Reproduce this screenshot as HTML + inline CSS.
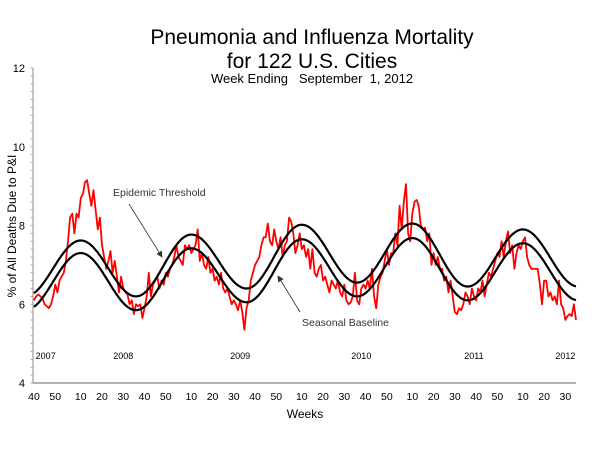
<!DOCTYPE html>
<html><head><meta charset="utf-8"><style>
body{margin:0;background:#fff;}
svg{display:block;font-family:"Liberation Sans",Arial,sans-serif;}
</style></head><body>
<svg id="chart" width="600" height="450">
<defs><marker id="ah" markerWidth="8" markerHeight="8" refX="7" refY="4" orient="auto"><path d="M0,0 L8,4 L0,8 z" fill="#333"/></marker></defs>
<text x="312" y="44" font-size="21" text-anchor="middle">Pneumonia and Influenza Mortality</text>
<text x="312" y="68" font-size="21" text-anchor="middle">for 122 U.S. Cities</text>
<text x="312" y="83" font-size="13" text-anchor="middle" xml:space="preserve">Week Ending   September  1, 2012</text>
<text transform="translate(16,226) rotate(-90)" font-size="12" text-anchor="middle">% of All Deaths Due to P&amp;I</text>
<text x="305" y="418" font-size="12" text-anchor="middle">Weeks</text>
<g id="axes"></g>
<g id="series"></g>
<text x="113" y="196" font-size="10.5" fill="#333">Epidemic Threshold</text>
<line x1="129" y1="204" x2="162" y2="257" stroke="#333" stroke-width="0.8" marker-end="url(#ah)"/>
<text x="302" y="326" font-size="10.5" fill="#333">Seasonal Baseline</text>
<line x1="300" y1="312" x2="278" y2="276" stroke="#333" stroke-width="0.8" marker-end="url(#ah)"/>
</svg>
<script>
const pi = [
6.1,6.2,6.25,6.2,6.15,6.0,5.95,5.9,6.0,6.2,6.5,6.3,6.6,
6.7,6.8,7.1,7.6,8.2,8.3,7.8,8.3,8.2,8.7, 8.8,9.1,9.15,8.8,8.5,8.9,8.4,7.9,8.2,7.5,
7.2,6.9,7.1,7.35,6.8,7.1,6.7,6.3,6.7,6.4, 6.3,6.25,6.0,6.1,5.75,6.0,5.95,6.0,5.65,5.9,
6.2,6.8,6.2,6.5,6.6,6.7,6.4,6.6,6.5,6.8,6.7,6.9,
7.0,7.2,7.5,7.2,7.1,7.0,7.5,7.4,7.5,7.3, 7.4,7.5,7.9,7.1,7.3,7.0,6.9,7.2,6.8,6.9,
6.6,6.7,6.5,6.8,6.4,6.3,6.4,6.2,6.0,6.1, 6.0,5.85,6.1,5.8,5.35,5.9,6.1,6.6,6.8,7.0,
7.1,7.2,7.5,7.7,7.7,8.05,7.6,7.5,7.9,7.6,7.4,7.7,
7.2,7.5,7.6,8.2,8.1,7.8,7.3,7.5,7.8,7.4, 7.5,7.2,7.4,6.9,7.4,6.8,6.7,6.9,7.0,6.6,
6.7,6.5,6.3,6.6,6.5,6.4,6.6,6.3,6.2,6.5, 6.1,6.0,6.05,6.2,6.8,6.1,6.0,6.4,6.5,6.4,
6.6,6.4,6.9,6.2,5.9,6.5,6.7,6.8,7.1,7.4,7.0,7.3,
7.3,7.8,7.5,8.5,7.9,8.6,9.05,7.8,7.6,8.3, 8.6,8.65,8.5,8.0,7.9,7.95,7.6,7.8,7.0,7.3,
7.0,7.2,6.9,6.9,6.6,6.7,6.3,6.6,6.2,5.8, 5.75,5.9,5.85,6.0,6.3,6.2,6.0,6.4,6.2,6.1,
6.4,6.3,6.6,6.2,6.5,6.8,6.7,6.9,7.1,7.3,7.2,7.6,
7.2,7.6,7.85,7.3,7.5,6.9,7.3,7.5,7.4,7.6, 7.7,7.2,7.0,6.9,6.9,6.9,6.9,6.5,6.0,6.6,
6.6,6.2,6.3,6.1,6.2,6.0,6.6,6.0,5.9,5.6, 5.7,5.75,5.7,6.0,5.6
];
const extremeWeeks = [-4, 22, 48, 74, 100, 126, 152, 178, 204, 230, 256];
const baselineExtremes = [5.85, 7.3, 5.85, 7.42, 6.05, 7.65, 6.2, 7.68, 6.1, 7.55, 6.1];
const thresholdExtremes = [6.2, 7.62, 6.2, 7.77, 6.4, 8.02, 6.55, 8.05, 6.45, 7.9, 6.45];
const yTicks = [4, 6, 8, 10, 12];
const xTickLabels = [40,50,10,20,30,40,50,10,20,30,40,50,10,20,30,40,50,10,20,30,40,50,10,20,30,40,50,10,20,30];
const xTickWeeks = [0,10,22,32,42,52,62,74,84,94,104,114,126,136,146,156,166,178,188,198,208,218,230,240,250];
const yearLabels = ["2007","2008","2009","2010","2011","2012"];
const yearWeeks = [5.5, 42, 97, 154, 207, 250];

const X0=34, X1=576, Y0=383, Y1=68;
const nW = pi.length-1;
const xs = i => X0 + i*(X1-X0)/nW;
const ys = v => Y0 - (v-4)*(Y0-Y1)/8;
const NS="http://www.w3.org/2000/svg";
function mk(tag, attrs, parent){const e=document.createElementNS(NS,tag);for(const k in attrs)e.setAttribute(k,attrs[k]);parent.appendChild(e);return e;}
const axes=document.getElementById('axes'), ser=document.getElementById('series');

let a=mk('line',{x1:33,y1:Y1,x2:33,y2:Y0,stroke:'#888','stroke-width':1},axes);


a=mk('line',{x1:33,y1:Y0,x2:X1,y2:Y0,stroke:'#999','stroke-width':1.5},axes);


for(let v=4; v<=12.001; v+=0.2){
  const t=mk('line',{x1:30.5,y1:ys(v),x2:33,y2:ys(v),stroke:'#999','stroke-width':0.8},axes);
  
  
}
yTicks.forEach(v=>{
  const t=mk('text',{x:25,y:ys(v)+4,'font-size':11,'text-anchor':'end'},axes);
  t.textContent=v;
  
  
});
xTickWeeks.forEach((w,k)=>{
  const t=mk('text',{x:xs(w),y:400,'font-size':10.5,'text-anchor':'middle'},axes);
  t.textContent=xTickLabels[k];
  
  
});
yearWeeks.forEach((w,k)=>{
  const t=mk('text',{x:xs(w),y:359,'font-size':9,'text-anchor':'middle'},axes);
  t.textContent=yearLabels[k];
  
  
});

function curve(ext){
  const pts=[];
  for(let i=0;i<=nW;i+=0.5){
    let k=0; while(k<extremeWeeks.length-2 && i>extremeWeeks[k+1]) k++;
    const w0=extremeWeeks[k], w1=extremeWeeks[k+1];
    const f=(i-w0)/(w1-w0), s=(1-Math.cos(Math.PI*f))/2;
    const v=ext[k]+(ext[k+1]-ext[k])*s;
    pts.push(xs(i).toFixed(1)+','+ys(v).toFixed(1));
  }
  return pts.join(' ');
}
let p=mk('polyline',{points:pi.map((v,i)=>xs(i).toFixed(1)+','+ys(v).toFixed(1)).join(' '),fill:'none',stroke:'#ff0000','stroke-width':1.8,'stroke-linejoin':'round'},ser);


p=mk('polyline',{points:curve(thresholdExtremes),fill:'none',stroke:'#000','stroke-width':2.2},ser);


p=mk('polyline',{points:curve(baselineExtremes),fill:'none',stroke:'#000','stroke-width':2.2},ser);


</script>
</body></html>
